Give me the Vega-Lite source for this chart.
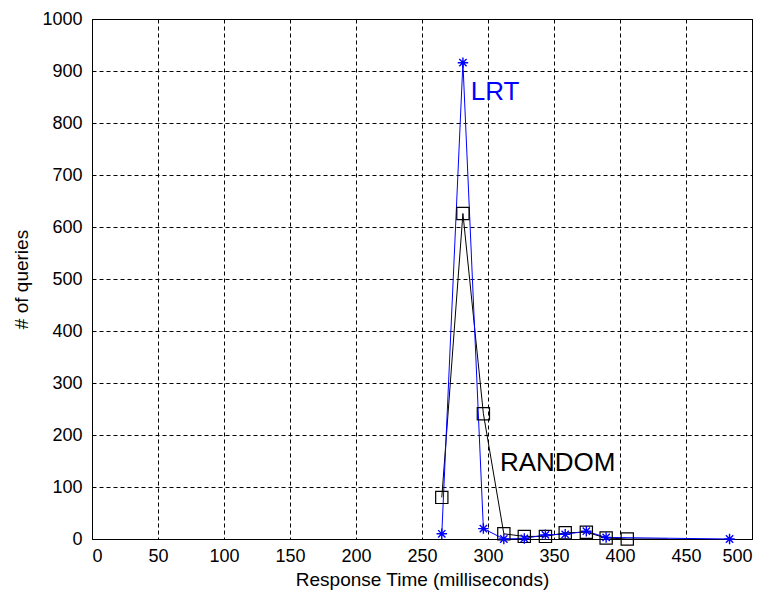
{
  "$schema": "https://vega.github.io/schema/vega-lite/v6.json",
  "autosize": "none",
  "width": 660,
  "height": 520,
  "padding": {"left": 92, "top": 19, "right": 16, "bottom": 57},
  "background": "white",
  "config": {
    "view": {"stroke": "#000", "strokeWidth": 1},
    "font": "Liberation Sans"
  },
  "datasets": {
    "lrt": [
      {"t": 265, "n": 10},
      {"t": 281, "n": 916},
      {"t": 296.5, "n": 20},
      {"t": 312, "n": 0},
      {"t": 327.5, "n": 1},
      {"t": 343.5, "n": 8},
      {"t": 358.5, "n": 9},
      {"t": 374.5, "n": 15},
      {"t": 389.5, "n": 3},
      {"t": 483, "n": 0}
    ],
    "random": [
      {"t": 265, "n": 80},
      {"t": 281, "n": 626},
      {"t": 296.5, "n": 241},
      {"t": 312, "n": 10},
      {"t": 327.5, "n": 5},
      {"t": 343.5, "n": 5},
      {"t": 358.5, "n": 12},
      {"t": 374.5, "n": 13},
      {"t": 389.5, "n": 2},
      {"t": 405.5, "n": 0},
      {"t": 436, "n": 0}
    ],
    "labels": [
      {"t": 287, "n": 859, "label": "LRT", "series": "LRT"},
      {"t": 309, "n": 147, "label": "RANDOM", "series": "RANDOM"}
    ]
  },
  "encoding": {
    "x": {
      "field": "t", "type": "quantitative",
      "scale": {"domain": [0, 500], "nice": false, "zero": false},
      "axis": {
        "values": [0,50,100,150,200,250,300,350,400,450,500],
        "title": "Response Time (milliseconds)",
        "titleFont": "Liberation Sans", "titleFontSize": 19, "titleFontWeight": "normal", "titleColor": "#000",
        "titlePadding": 5,
        "labelFont": "Liberation Sans", "labelFontSize": 18, "labelColor": "#000",
        "labelPadding": 8,
        "grid": true, "gridColor": "#000", "gridDash": [4, 3], "gridOpacity": 1, "gridWidth": 1,
        "domainColor": "#000",
        "ticks": false
      }
    },
    "y": {
      "field": "n", "type": "quantitative",
      "scale": {"domain": [0, 1000], "nice": false},
      "axis": {
        "values": [0,100,200,300,400,500,600,700,800,900,1000],
        "format": "d",
        "title": "# of queries",
        "titleFont": "Liberation Sans", "titleFontSize": 19, "titleFontWeight": "normal", "titleColor": "#000",
        "titlePadding": 10,
        "labelFont": "Liberation Sans", "labelFontSize": 18, "labelColor": "#000",
        "labelPadding": 10,
        "grid": true, "gridColor": "#000", "gridDash": [4, 3], "gridOpacity": 1, "gridWidth": 1,
        "domainColor": "#000",
        "ticks": false
      }
    }
  },
  "layer": [
    {
      "data": {"name": "random"},
      "mark": {"type": "line", "color": "#000", "strokeWidth": 1}
    },
    {
      "data": {"name": "lrt"},
      "mark": {"type": "line", "color": "#0000ff", "strokeWidth": 1}
    },
    {
      "data": {"name": "random"},
      "transform": [{"filter": "datum.t < 420"}],
      "mark": {"type": "point", "shape": "square", "filled": false, "color": "#000", "size": 150, "strokeWidth": 1.2, "opacity": 1}
    },
    {
      "data": {"name": "lrt"},
      "mark": {"type": "point", "shape": "M0,-1L0,1M-1,0L1,0M-0.7,-0.7L0.7,0.7M-0.7,0.7L0.7,-0.7", "filled": false, "color": "#0000ff", "size": 110, "strokeWidth": 1.4, "opacity": 1}
    },
    {
      "data": {"name": "labels"},
      "mark": {"type": "text", "align": "left", "baseline": "middle", "font": "Liberation Sans", "fontSize": 26},
      "encoding": {
        "text": {"field": "label"},
        "color": {"field": "series", "type": "nominal", "scale": {"domain": ["LRT", "RANDOM"], "range": ["#0000ff", "#000000"]}, "legend": null}
      }
    }
  ]
}
